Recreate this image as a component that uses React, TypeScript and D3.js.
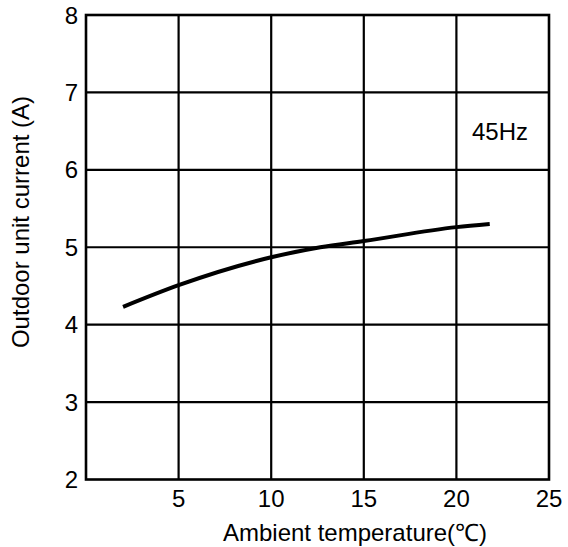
import React from "react";
import * as d3 from "d3";

const temps = [2, 5, 10, 12.65, 15, 20, 21.8];
const currents = [4.23, 4.51, 4.87, 5.0, 5.08, 5.26, 5.3];
const xTicks = [5, 10, 15, 20, 25];
const yTicks = [2, 3, 4, 5, 6, 7, 8];
const xGrid = [5, 10, 15, 20];
const yGrid = [3, 4, 5, 6, 7];
const label = "45Hz";

export default function App() {
  const W = 568, H = 547;
  const x = d3.scaleLinear().domain([0, 25]).range([86, 549]);
  const y = d3.scaleLinear().domain([2, 8]).range([479.5, 15]);
  const line = d3
    .line<number>()
    .x((_, i) => x(temps[i]))
    .y((d) => y(d))
    .curve(d3.curveMonotoneX);
  const font = "Arial, 'Liberation Sans', sans-serif";
  return (
    <svg width={W} height={H} style={{ position: "absolute", left: 0, top: 0 }}>
      <rect width={W} height={H} fill="#fff" />
      {xGrid.map((t) => (
        <line key={"gx" + t} x1={x(t)} x2={x(t)} y1={y(8)} y2={y(2)} stroke="#000" strokeWidth={2.2} />
      ))}
      {yGrid.map((t) => (
        <line key={"gy" + t} x1={x(0)} x2={x(25)} y1={y(t)} y2={y(t)} stroke="#000" strokeWidth={2.2} />
      ))}
      <rect x={x(0)} y={y(8)} width={x(25) - x(0)} height={y(2) - y(8)} fill="none" stroke="#000" strokeWidth={2.6} />
      <path d={line(currents) || ""} fill="none" stroke="#000" strokeWidth={4} />
      {yTicks.map((t) => (
        <text key={"yt" + t} x={78} y={y(t)} dy="0.36em" textAnchor="end" fontFamily={font} fontSize={24}>
          {t}
        </text>
      ))}
      {xTicks.map((t) => (
        <text key={"xt" + t} x={x(t)} y={507} textAnchor="middle" fontFamily={font} fontSize={24}>
          {t}
        </text>
      ))}
      <text x={355} y={541} textAnchor="middle" fontFamily={font} fontSize={24}>
        Ambient temperature(℃)
      </text>
      <text
        transform={`translate(29,${222}) rotate(-90)`}
        textAnchor="middle"
        fontFamily={font}
        fontSize={24}
      >
        Outdoor unit current (A)
      </text>
      <text x={500} y={140} textAnchor="middle" fontFamily={font} fontSize={24}>
        {label}
      </text>
    </svg>
  );
}
